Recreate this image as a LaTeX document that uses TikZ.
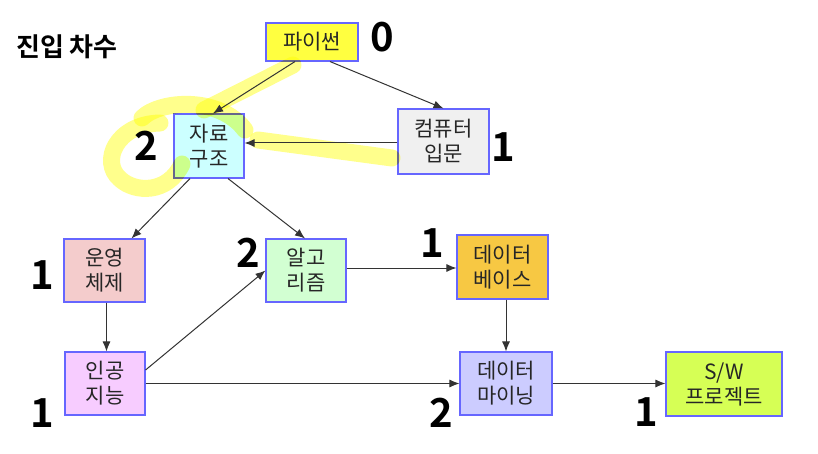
\documentclass[tikz,border=0pt]{standalone}
\usepackage{fontspec}
\setmainfont{Noto Sans CJK KR}
\newfontfamily\krbold{Noto Sans CJK KR Bold}
\usetikzlibrary{arrows.meta}
\definecolor{cbord}{HTML}{6666FF}
\definecolor{cpy}{HTML}{FFFF40}
\definecolor{cds}{HTML}{CCFFFF}
\definecolor{cci}{HTML}{F0F0F0}
\definecolor{cos}{HTML}{F4CCCC}
\definecolor{cal}{HTML}{D2FFD2}
\definecolor{cdb}{HTML}{F7C843}
\definecolor{cai}{HTML}{F7CCFF}
\definecolor{cdm}{HTML}{CCCCFF}
\definecolor{csw}{HTML}{D6FF55}
\definecolor{chl}{HTML}{FFFF8C}
\definecolor{ctext}{HTML}{262626}
\definecolor{carr}{HTML}{333333}
\tikzset{
  box/.style={draw=cbord, line width=1.1pt, inner sep=0pt, align=center,
    font=\fontsize{21}{25}\selectfont, text=ctext},
  num/.style={font=\krbold\fontsize{40}{40}\selectfont, inner sep=0pt},
  arr/.style={draw=carr, line width=1pt, -{Latex[length=10pt,width=8pt]}},
  hl/.style={draw=chl, blend mode=multiply, line width=17pt, line cap=round, line join=round}
}
\begin{document}
\begin{tikzpicture}[x=1pt,y=-1pt]
\useasboundingbox[fill=white] (0,0) rectangle (818,454);
\node[font=\krbold\fontsize{26}{26}\selectfont, inner sep=0pt] (title) at (67,47) {진입 차수};

\node[box, fill=cpy, minimum width=92pt, minimum height=38pt] (py) at (312,42) {파이썬};
\node[box, fill=cds, minimum width=70pt, minimum height=64pt] (ds) at (209,146) {자료\\구조};
\node[box, fill=cci, minimum width=91pt, minimum height=65pt] (ci) at (443.5,141.5) {컴퓨터\\입문};
\node[box, fill=cos, minimum width=81pt, minimum height=63pt] (os) at (104.5,270.5) {운영\\체제};
\node[box, fill=cal, minimum width=80pt, minimum height=63pt] (al) at (306,270.5) {알고\\리즘};
\node[box, fill=cdb, minimum width=91pt, minimum height=64pt] (db) at (502.5,267) {데이터\\베이스};
\node[box, fill=cai, minimum width=80pt, minimum height=63pt] (ai) at (105,383.5) {인공\\지능};
\node[box, fill=cdm, minimum width=92pt, minimum height=63pt] (dm) at (506,383.5) {데이터\\마이닝};
\node[box, fill=csw, minimum width=116pt, minimum height=64pt] (sw) at (724,384) {S/W\\프로젝트};

\node[num] (n0) at (382,37) {0};
\node[num] (n1) at (146,146) {2};
\node[num] (n2) at (503,147) {1};
\node[num] (n3) at (42,275) {1};
\node[num] (n4) at (248,253) {2};
\node[num] (n5) at (432,243) {1};
\node[num] (n6) at (42,413) {1};
\node[num] (n7) at (441,413) {2};
\node[num] (n8) at (646,412) {1};

% highlighter strokes
\draw[hl] (293,65) -- (204,110);
\draw[hl] (142,118) .. controls (160,100) and (220,96) .. (245,130);
\draw[hl] (160,123) .. controls (116,124) and (100,162) .. (120,179)
  .. controls (135,193) and (168,194) .. (182,164);
\draw[hl] (392,158) -- (258,140);

% connectors
\draw[arr] ([xshift=-17pt]py.south) -- ([xshift=4pt]ds.north);
\draw[arr] ([xshift=18pt]py.south) -- (ci.north);
\draw[arr] ([yshift=-1.5pt]ci.west) -- ([yshift=-1.5pt]ci.west -| ds.east);
\draw[arr] ([xshift=-19pt]ds.south) -- ([xshift=27pt]os.north);
\draw[arr] ([xshift=19pt]ds.south) -- ([xshift=-1pt]al.north);
\draw[arr] ([xshift=2pt]os.south) -- ([xshift=2pt]os.south |- ai.north);
\draw[arr] ([yshift=13.5pt]ai.east) -- (al.west);
\draw[arr] (ai.east) -- (ai.east -| dm.west);
\draw[arr] ([yshift=2.5pt]al.east) -- ([yshift=2.5pt]al.east -| db.west);
\draw[arr] (dm.north |- db.south) -- (dm.north);
\draw[arr] (dm.east) -- (dm.east -| sw.west);
\end{tikzpicture}
\end{document}
